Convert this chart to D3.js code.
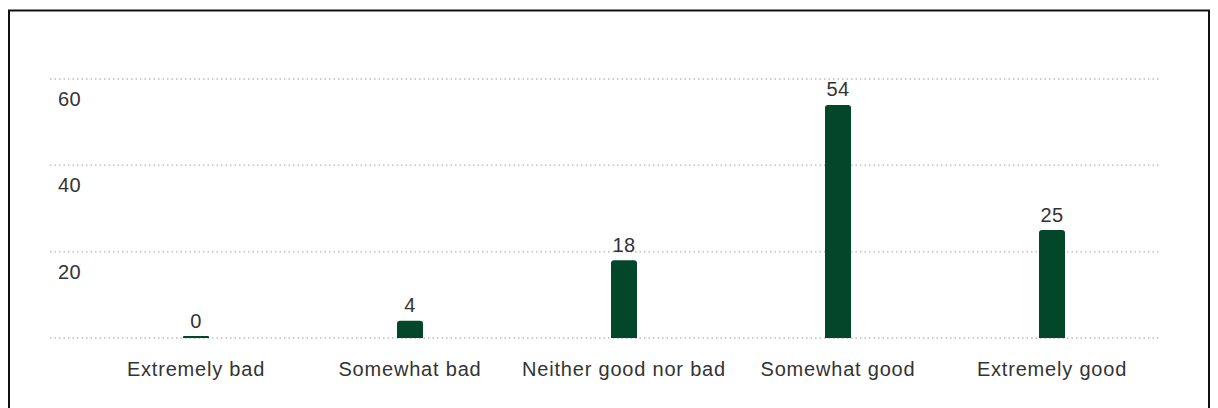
<!DOCTYPE html>
<html>
<head>
<meta charset="utf-8">
<script src="https://cdn.jsdelivr.net/npm/d3@7"></script>
<style>
  html, body { margin: 0; padding: 0; background: #fff; }
  svg { display: block; font-family: "Liberation Sans", Arial, sans-serif; }
</style>
</head>
<body>
<svg id="chart" width="1218" height="408"></svg>
<script>
const categories = ["Extremely bad", "Somewhat bad", "Neither good nor bad", "Somewhat good", "Extremely good"];
const values = [0, 4, 18, 54, 25];
const yTicks = [0, 20, 40, 60];

const svg = d3.select("#chart");

// frame
svg.append("rect").attr("x", 9).attr("y", 10.5).attr("width", 1200).attr("height", 420)
  .attr("fill", "none").attr("stroke", "#111").attr("stroke-width", 2);

const x = d3.scaleBand().domain(categories).range([89, 1159]).paddingInner(0.875).paddingOuter(0.4375);
const y = d3.scaleLinear().domain([0, 60]).range([338, 79]);

// grid
const grid = svg.append("g");
grid.selectAll("line").data(yTicks).join("line")
  .attr("x1", 50).attr("x2", 1160)
  .attr("y1", d => y(d)).attr("y2", d => y(d))
  .attr("stroke", "#cccccc").attr("stroke-width", 2)
  .attr("stroke-dasharray", "1.5,3");

// y labels (below gridlines)
grid.selectAll("text").data(yTicks.filter(d => d > 0)).join("text")
  .attr("x", 58).attr("y", d => y(d) + 27)
  .attr("fill", "#333").attr("font-size", 20).attr("letter-spacing", 0.3)
  .text(d => d);

// bars
const bw = 26;
const barsG = svg.append("g");
barsG.selectAll("path").data(values).join("path")
  .attr("fill", "#03472a")
  .attr("d", (d, i) => {
    const cx = x(categories[i]) + x.bandwidth() / 2;
    const x0 = cx - bw / 2, x1 = cx + bw / 2;
    const yb = y(0);
    const yt = Math.min(y(d), yb - 2);
    const r = Math.min(3, (yb - yt) / 2);
    return `M${x0},${yb}V${yt + r}Q${x0},${yt} ${x0 + r},${yt}H${x1 - r}Q${x1},${yt} ${x1},${yt + r}V${yb}Z`;
  });

// value labels
barsG.selectAll("text").data(values).join("text")
  .attr("x", (d, i) => x(categories[i]) + x.bandwidth() / 2)
  .attr("y", d => Math.min(y(d), y(0) - 2) - 8.5)
  .attr("text-anchor", "middle").attr("fill", "#333").attr("font-size", 20).attr("letter-spacing", 0.3)
  .text(d => d);

// x axis labels
svg.append("g").selectAll("text").data(categories).join("text")
  .attr("x", d => x(d) + x.bandwidth() / 2)
  .attr("y", 376)
  .attr("text-anchor", "middle").attr("fill", "#333").attr("font-size", 20).attr("letter-spacing", 0.8)
  .text(d => d);
</script>
</body>
</html>
